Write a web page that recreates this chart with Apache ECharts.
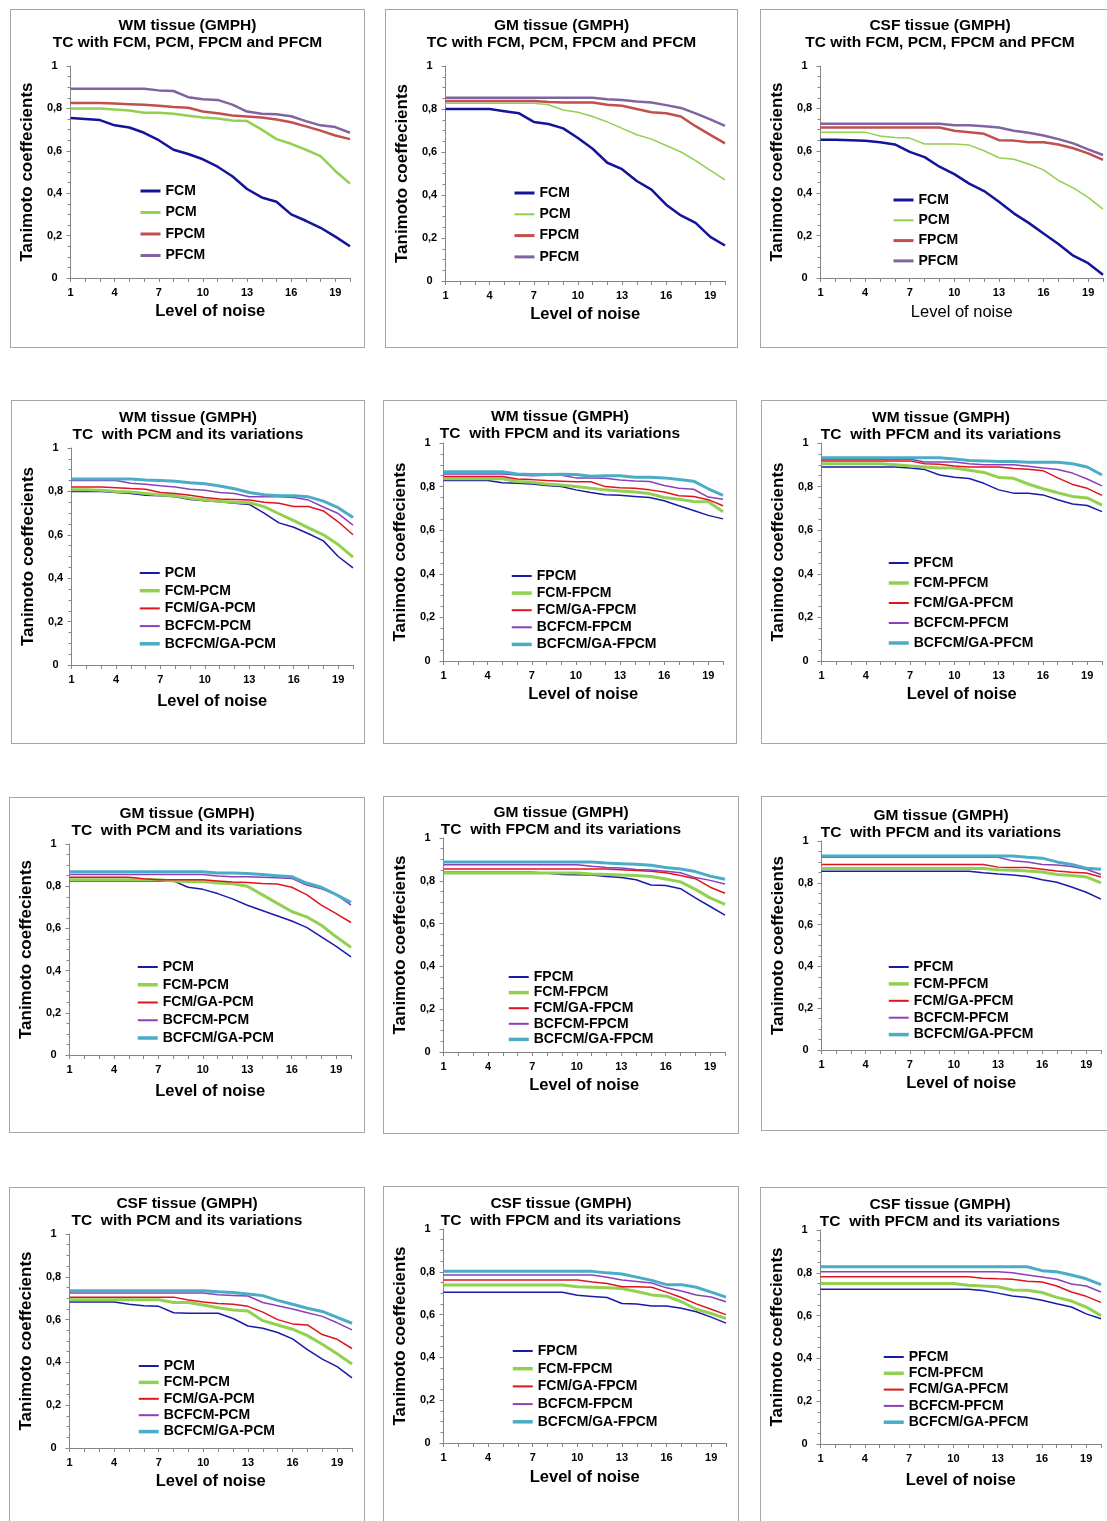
<!DOCTYPE html>
<html>
<head>
<meta charset="utf-8">
<script src="https://cdn.jsdelivr.net/npm/echarts@6/dist/echarts.min.js"></script>
<style>
  html, body { margin: 0; padding: 0; background: #fff; }
  body { width: 1107px; height: 1521px; position: relative; overflow: hidden; }
  .panel { position: absolute; box-sizing: border-box; border: 1px solid #a6a6a6; background: #fff; }
</style>
</head>
<body>
<script>
// noise levels on the x axis
const noiseLevels = ['1', '2', '3', '4', '5', '6', '7', '8', '9', '10',
  '11', '12', '13', '14', '15', '16', '17', '18', '19', '20'];

// --- row 1: TC with FCM, PCM, FPCM and PFCM ---
const wmFCM = [0.755, 0.75, 0.745, 0.72, 0.71, 0.685, 0.65, 0.605, 0.585, 0.56, 0.525, 0.48, 0.42, 0.38, 0.36, 0.30, 0.27, 0.237, 0.195, 0.15];
const wmPCM = [0.80, 0.80, 0.80, 0.795, 0.79, 0.78, 0.78, 0.775, 0.765, 0.757, 0.752, 0.743, 0.74, 0.70, 0.655, 0.633, 0.605, 0.575, 0.505, 0.445];
const wmFPCM = [0.825, 0.825, 0.825, 0.823, 0.82, 0.817, 0.813, 0.807, 0.803, 0.785, 0.777, 0.767, 0.762, 0.757, 0.748, 0.735, 0.715, 0.695, 0.672, 0.655];
const wmPFCM = [0.893, 0.893, 0.893, 0.893, 0.893, 0.893, 0.885, 0.882, 0.853, 0.843, 0.84, 0.818, 0.785, 0.775, 0.772, 0.763, 0.74, 0.72, 0.712, 0.685];

const gmFCM = [0.80, 0.80, 0.80, 0.80, 0.79, 0.78, 0.74, 0.73, 0.71, 0.665, 0.615, 0.55, 0.52, 0.465, 0.425, 0.355, 0.305, 0.27, 0.205, 0.165];
const gmPCM = [0.827, 0.827, 0.827, 0.827, 0.827, 0.827, 0.827, 0.82, 0.795, 0.785, 0.765, 0.74, 0.71, 0.68, 0.66, 0.63, 0.60, 0.56, 0.515, 0.47];
const gmFPCM = [0.837, 0.837, 0.837, 0.837, 0.837, 0.837, 0.837, 0.833, 0.83, 0.83, 0.83, 0.82, 0.815, 0.80, 0.785, 0.78, 0.765, 0.72, 0.68, 0.64];
const gmPFCM = [0.852, 0.852, 0.852, 0.852, 0.852, 0.852, 0.852, 0.852, 0.852, 0.852, 0.852, 0.845, 0.842, 0.835, 0.83, 0.818, 0.805, 0.78, 0.752, 0.722];

const csfFCM = [0.652, 0.652, 0.65, 0.647, 0.64, 0.63, 0.595, 0.57, 0.525, 0.49, 0.445, 0.41, 0.36, 0.305, 0.26, 0.21, 0.16, 0.105, 0.07, 0.015];
const csfPCM = [0.688, 0.688, 0.688, 0.688, 0.67, 0.663, 0.66, 0.632, 0.632, 0.632, 0.627, 0.60, 0.567, 0.56, 0.538, 0.51, 0.46, 0.425, 0.38, 0.325];
const csfFPCM = [0.71, 0.71, 0.71, 0.71, 0.71, 0.71, 0.71, 0.71, 0.71, 0.695, 0.688, 0.68, 0.65, 0.648, 0.64, 0.64, 0.63, 0.612, 0.588, 0.557];
const csfPFCM = [0.728, 0.728, 0.728, 0.728, 0.728, 0.728, 0.728, 0.728, 0.728, 0.72, 0.72, 0.716, 0.71, 0.695, 0.685, 0.672, 0.655, 0.635, 0.607, 0.58];

// --- WM variations ---
const wmPcmBase = [0.80, 0.80, 0.80, 0.795, 0.79, 0.782, 0.78, 0.775, 0.763, 0.757, 0.752, 0.745, 0.74, 0.70, 0.655, 0.635, 0.605, 0.572, 0.50, 0.448];
const wmFcmPcm = [0.808, 0.808, 0.805, 0.80, 0.797, 0.79, 0.783, 0.78, 0.768, 0.76, 0.755, 0.75, 0.748, 0.73, 0.697, 0.665, 0.632, 0.60, 0.555, 0.497];
const wmFcmGaPcm = [0.82, 0.82, 0.82, 0.817, 0.813, 0.81, 0.795, 0.79, 0.782, 0.772, 0.765, 0.763, 0.76, 0.75, 0.745, 0.73, 0.73, 0.71, 0.66, 0.60];
const wmBcfcmPcm = [0.85, 0.85, 0.85, 0.85, 0.838, 0.833, 0.826, 0.82, 0.81, 0.805, 0.795, 0.79, 0.775, 0.775, 0.775, 0.772, 0.76, 0.728, 0.698, 0.645];
const wmBcfcmGaPcm = [0.857, 0.857, 0.857, 0.857, 0.857, 0.853, 0.85, 0.847, 0.84, 0.835, 0.825, 0.812, 0.795, 0.785, 0.78, 0.78, 0.775, 0.755, 0.725, 0.68];

const wmFpcmBase = [0.828, 0.828, 0.828, 0.828, 0.818, 0.815, 0.812, 0.805, 0.80, 0.785, 0.773, 0.763, 0.76, 0.755, 0.75, 0.735, 0.712, 0.69, 0.668, 0.652];
const wmFcmFpcm = [0.836, 0.836, 0.836, 0.836, 0.836, 0.823, 0.82, 0.812, 0.807, 0.80, 0.792, 0.785, 0.78, 0.775, 0.768, 0.75, 0.742, 0.732, 0.73, 0.685];
const wmFcmGaFpcm = [0.846, 0.846, 0.846, 0.846, 0.846, 0.835, 0.832, 0.828, 0.825, 0.822, 0.822, 0.80, 0.795, 0.792, 0.785, 0.775, 0.758, 0.755, 0.74, 0.712];
const wmBcfcmFpcm = [0.858, 0.858, 0.858, 0.858, 0.858, 0.853, 0.85, 0.852, 0.852, 0.84, 0.84, 0.838, 0.83, 0.826, 0.823, 0.805, 0.792, 0.788, 0.752, 0.742];
const wmBcfcmGaFpcm = [0.868, 0.868, 0.868, 0.868, 0.868, 0.858, 0.855, 0.855, 0.857, 0.855, 0.848, 0.85, 0.85, 0.843, 0.843, 0.84, 0.833, 0.825, 0.79, 0.76];

const wmPfcmBase = [0.89, 0.89, 0.89, 0.89, 0.89, 0.89, 0.885, 0.878, 0.853, 0.843, 0.837, 0.815, 0.785, 0.77, 0.77, 0.762, 0.74, 0.72, 0.713, 0.685];
const wmFcmPfcm = [0.905, 0.905, 0.905, 0.905, 0.905, 0.90, 0.895, 0.89, 0.885, 0.885, 0.875, 0.865, 0.842, 0.838, 0.812, 0.79, 0.772, 0.755, 0.748, 0.715];
const wmFcmGaPfcm = [0.918, 0.918, 0.918, 0.918, 0.918, 0.918, 0.918, 0.905, 0.903, 0.895, 0.89, 0.89, 0.89, 0.883, 0.88, 0.873, 0.84, 0.81, 0.792, 0.76];
const wmBcfcmPfcm = [0.925, 0.925, 0.925, 0.925, 0.925, 0.925, 0.925, 0.913, 0.913, 0.913, 0.905, 0.90, 0.90, 0.90, 0.893, 0.885, 0.878, 0.862, 0.835, 0.803];
const wmBcfcmGaPfcm = [0.932, 0.932, 0.932, 0.932, 0.932, 0.932, 0.932, 0.932, 0.932, 0.927, 0.92, 0.918, 0.915, 0.915, 0.912, 0.912, 0.912, 0.905, 0.89, 0.853];

// --- GM variations ---
const gmPcmBase = [0.825, 0.825, 0.825, 0.825, 0.825, 0.825, 0.825, 0.825, 0.795, 0.785, 0.765, 0.74, 0.71, 0.685, 0.66, 0.635, 0.605, 0.56, 0.515, 0.465];
const gmFcmPcm = [0.83, 0.83, 0.83, 0.83, 0.83, 0.83, 0.83, 0.825, 0.822, 0.822, 0.815, 0.812, 0.80, 0.76, 0.72, 0.68, 0.655, 0.615, 0.56, 0.51];
const gmFcmGaPcm = [0.842, 0.842, 0.842, 0.842, 0.842, 0.835, 0.83, 0.83, 0.83, 0.83, 0.825, 0.82, 0.817, 0.813, 0.81, 0.795, 0.76, 0.71, 0.67, 0.628];
const gmBcfcmPcm = [0.855, 0.855, 0.855, 0.855, 0.855, 0.855, 0.855, 0.855, 0.855, 0.855, 0.848, 0.845, 0.845, 0.843, 0.84, 0.837, 0.805, 0.788, 0.76, 0.71];
const gmBcfcmGaPcm = [0.868, 0.868, 0.868, 0.868, 0.868, 0.868, 0.868, 0.868, 0.868, 0.868, 0.862, 0.862, 0.86, 0.855, 0.85, 0.845, 0.815, 0.795, 0.76, 0.723];

const gmFpcmBase = [0.84, 0.84, 0.84, 0.84, 0.84, 0.84, 0.84, 0.835, 0.83, 0.828, 0.827, 0.82, 0.815, 0.805, 0.78, 0.778, 0.763, 0.72, 0.68, 0.64];
const gmFcmFpcm = [0.837, 0.837, 0.837, 0.837, 0.837, 0.837, 0.837, 0.837, 0.837, 0.837, 0.832, 0.83, 0.827, 0.825, 0.82, 0.808, 0.795, 0.76, 0.72, 0.69];
const gmFcmGaFpcm = [0.855, 0.855, 0.855, 0.855, 0.855, 0.855, 0.855, 0.855, 0.855, 0.855, 0.855, 0.855, 0.852, 0.848, 0.845, 0.838, 0.825, 0.81, 0.77, 0.742];
const gmBcfcmFpcm = [0.875, 0.875, 0.875, 0.875, 0.875, 0.875, 0.875, 0.875, 0.875, 0.875, 0.868, 0.862, 0.86, 0.853, 0.85, 0.845, 0.838, 0.815, 0.802, 0.785];
const gmBcfcmGaFpcm = [0.888, 0.888, 0.888, 0.888, 0.888, 0.888, 0.888, 0.888, 0.888, 0.888, 0.888, 0.883, 0.88, 0.877, 0.873, 0.862, 0.855, 0.843, 0.822, 0.807];

const gmPfcmBase = [0.855, 0.855, 0.855, 0.855, 0.855, 0.855, 0.855, 0.855, 0.855, 0.855, 0.855, 0.848, 0.842, 0.837, 0.83, 0.815, 0.803, 0.78, 0.755, 0.722];
const gmFcmPfcm = [0.868, 0.868, 0.868, 0.868, 0.868, 0.868, 0.868, 0.868, 0.868, 0.868, 0.868, 0.868, 0.862, 0.86, 0.856, 0.852, 0.84, 0.835, 0.828, 0.80];
const gmFcmGaPfcm = [0.888, 0.888, 0.888, 0.888, 0.888, 0.888, 0.888, 0.888, 0.888, 0.888, 0.888, 0.888, 0.875, 0.873, 0.873, 0.865, 0.857, 0.85, 0.847, 0.828];
const gmBcfcmPfcm = [0.922, 0.922, 0.922, 0.922, 0.922, 0.922, 0.922, 0.922, 0.922, 0.922, 0.922, 0.922, 0.922, 0.905, 0.90, 0.888, 0.885, 0.878, 0.865, 0.84];
const gmBcfcmGaPfcm = [0.928, 0.928, 0.928, 0.928, 0.928, 0.928, 0.928, 0.928, 0.928, 0.928, 0.928, 0.928, 0.928, 0.928, 0.922, 0.918, 0.90, 0.888, 0.87, 0.865];

// --- CSF variations ---
const csfPcmBase = [0.682, 0.682, 0.682, 0.682, 0.672, 0.665, 0.662, 0.632, 0.63, 0.63, 0.63, 0.605, 0.57, 0.56, 0.54, 0.51, 0.46, 0.415, 0.38, 0.328];
const csfFcmPcm = [0.693, 0.693, 0.693, 0.693, 0.693, 0.693, 0.693, 0.68, 0.68, 0.668, 0.655, 0.645, 0.64, 0.595, 0.575, 0.555, 0.525, 0.485, 0.44, 0.393];
const csfFcmGaPcm = [0.705, 0.705, 0.705, 0.705, 0.705, 0.705, 0.705, 0.705, 0.692, 0.682, 0.675, 0.672, 0.662, 0.635, 0.60, 0.58, 0.575, 0.53, 0.508, 0.465];
const csfBcfcmPcm = [0.724, 0.724, 0.724, 0.724, 0.724, 0.724, 0.724, 0.724, 0.724, 0.724, 0.716, 0.713, 0.71, 0.68, 0.665, 0.65, 0.632, 0.615, 0.585, 0.552];
const csfBcfcmGaPcm = [0.735, 0.735, 0.735, 0.735, 0.735, 0.735, 0.735, 0.735, 0.735, 0.735, 0.73, 0.727, 0.72, 0.712, 0.69, 0.672, 0.653, 0.638, 0.61, 0.583];

const csfFpcmBase = [0.704, 0.704, 0.704, 0.704, 0.704, 0.704, 0.704, 0.704, 0.704, 0.69, 0.685, 0.68, 0.652, 0.65, 0.64, 0.64, 0.63, 0.613, 0.588, 0.56];
const csfFcmFpcm = [0.738, 0.738, 0.738, 0.738, 0.738, 0.738, 0.738, 0.738, 0.738, 0.73, 0.728, 0.725, 0.722, 0.708, 0.692, 0.686, 0.66, 0.625, 0.605, 0.582];
const csfFcmGaFpcm = [0.762, 0.762, 0.762, 0.762, 0.762, 0.762, 0.762, 0.762, 0.762, 0.762, 0.752, 0.745, 0.73, 0.73, 0.728, 0.705, 0.68, 0.65, 0.625, 0.60];
const csfBcfcmFpcm = [0.785, 0.785, 0.785, 0.785, 0.785, 0.785, 0.785, 0.785, 0.785, 0.785, 0.785, 0.775, 0.762, 0.755, 0.748, 0.725, 0.71, 0.692, 0.682, 0.66];
const csfBcfcmGaFpcm = [0.802, 0.802, 0.802, 0.802, 0.802, 0.802, 0.802, 0.802, 0.802, 0.802, 0.802, 0.795, 0.79, 0.775, 0.76, 0.74, 0.74, 0.728, 0.705, 0.682];

const csfPfcmBase = [0.723, 0.723, 0.723, 0.723, 0.723, 0.723, 0.723, 0.723, 0.723, 0.723, 0.723, 0.717, 0.705, 0.692, 0.685, 0.672, 0.655, 0.64, 0.608, 0.585];
const csfFcmPfcm = [0.75, 0.75, 0.75, 0.75, 0.75, 0.75, 0.75, 0.75, 0.75, 0.75, 0.742, 0.738, 0.735, 0.72, 0.718, 0.708, 0.685, 0.668, 0.64, 0.60];
const csfFcmGaPfcm = [0.781, 0.781, 0.781, 0.781, 0.781, 0.781, 0.781, 0.781, 0.781, 0.781, 0.781, 0.775, 0.772, 0.77, 0.76, 0.757, 0.738, 0.71, 0.69, 0.662];
const csfBcfcmPfcm = [0.805, 0.805, 0.805, 0.805, 0.805, 0.805, 0.805, 0.805, 0.805, 0.805, 0.805, 0.805, 0.805, 0.80, 0.79, 0.78, 0.77, 0.748, 0.738, 0.71];
const csfBcfcmGaPfcm = [0.828, 0.828, 0.828, 0.828, 0.828, 0.828, 0.828, 0.828, 0.828, 0.828, 0.828, 0.828, 0.828, 0.828, 0.828, 0.81, 0.805, 0.79, 0.772, 0.745];

// series names
const baseNames = ['FCM', 'PCM', 'FPCM', 'PFCM'];
const pcmNames = ['PCM', 'FCM-PCM', 'FCM/GA-PCM', 'BCFCM-PCM', 'BCFCM/GA-PCM'];
const fpcmNames = ['FPCM', 'FCM-FPCM', 'FCM/GA-FPCM', 'BCFCM-FPCM', 'BCFCM/GA-FPCM'];
const pfcmNames = ['PFCM', 'FCM-PFCM', 'FCM/GA-PFCM', 'BCFCM-PFCM', 'BCFCM/GA-PFCM'];

const FONT = "'Liberation Sans', Arial, sans-serif";
const AXIS_COLOR = '#868686';

// row 1 styles / variations styles
const BASE_COLORS = ['#14149a', '#92d050', '#c0504d', '#8064a2'];
const VAR_COLORS = ['#1a1aaa', '#92d050', '#e0141e', '#8a40b8', '#4bacc6'];
const VAR_WIDTHS = [1.5, 3, 1.5, 1.5, 3];

// page layout, measured in page pixels:
// box = [left, top, width, height], plot = [x0, y0(top), x1, y1(bottom)]
// title = y of first title line, legend = [line start x, first item y, step]
const panels = [
  { box: [10, 9, 355, 339], plot: [59, 65, 349, 277], title: 25, legend: [138, 190, 21.5], xGap: 23,
    head: 'WM tissue (GMPH)', sub: 'TC with FCM, PCM, FPCM and PFCM',
    names: baseNames, values: [wmFCM, wmPCM, wmFPCM, wmPFCM], colors: BASE_COLORS, widths: [2.5, 2.5, 2.5, 2.5] },
  { box: [385, 9, 353, 339], plot: [433, 65, 724, 280], title: 25, legend: [512, 192, 21.3], xGap: 23,
    head: 'GM tissue (GMPH)', sub: 'TC with FCM, PCM, FPCM and PFCM',
    names: baseNames, values: [gmFCM, gmPCM, gmFPCM, gmPFCM], colors: BASE_COLORS, widths: [2.5, 1.5, 2.5, 2.5] },
  { box: [760, 9, 360, 339], plot: [808, 65, 1102, 277], title: 25, legend: [891, 199, 20.3], xGap: 26, xNameWeight: 'normal',
    head: 'CSF tissue (GMPH)', sub: 'TC with FCM, PCM, FPCM and PFCM',
    names: baseNames, values: [csfFCM, csfPCM, csfFPCM, csfPFCM], colors: BASE_COLORS, widths: [2.5, 1.5, 2.5, 2.5] },

  { box: [11, 400, 354, 344], plot: [60, 447, 352, 664], title: 417, legend: [137, 572, 17.7], xGap: 28,
    head: 'WM tissue (GMPH)', sub: 'TC  with PCM and its variations',
    names: pcmNames, values: [wmPcmBase, wmFcmPcm, wmFcmGaPcm, wmBcfcmPcm, wmBcfcmGaPcm] },
  { box: [383, 400, 354, 344], plot: [431, 442, 722, 660], title: 416, legend: [509, 575, 17.1], xGap: 25,
    head: 'WM tissue (GMPH)', sub: 'TC  with FPCM and its variations',
    names: fpcmNames, values: [wmFpcmBase, wmFcmFpcm, wmFcmGaFpcm, wmBcfcmFpcm, wmBcfcmGaFpcm] },
  { box: [761, 400, 360, 344], plot: [810, 442, 1101, 660], title: 417, legend: [886, 562, 20], xGap: 22,
    head: 'WM tissue (GMPH)', sub: 'TC  with PFCM and its variations',
    names: pfcmNames, values: [wmPfcmBase, wmFcmPfcm, wmFcmGaPfcm, wmBcfcmPfcm, wmBcfcmGaPfcm] },

  { box: [9, 797, 356, 336], plot: [57, 843, 350, 1054], title: 813, legend: [135, 966, 17.75], xGap: 28,
    head: 'GM tissue (GMPH)', sub: 'TC  with PCM and its variations',
    names: pcmNames, values: [gmPcmBase, gmFcmPcm, gmFcmGaPcm, gmBcfcmPcm, gmBcfcmGaPcm] },
  { box: [383, 796, 356, 338], plot: [431, 837, 724, 1051], title: 812, legend: [506, 976, 15.6], xGap: 25,
    head: 'GM tissue (GMPH)', sub: 'TC  with FPCM and its variations',
    names: fpcmNames, values: [gmFpcmBase, gmFcmFpcm, gmFcmGaFpcm, gmBcfcmFpcm, gmBcfcmGaFpcm] },
  { box: [761, 796, 360, 335], plot: [809, 840, 1100, 1049], title: 815, legend: [886, 966, 16.9], xGap: 25,
    head: 'GM tissue (GMPH)', sub: 'TC  with PFCM and its variations',
    names: pfcmNames, values: [gmPfcmBase, gmFcmPfcm, gmFcmGaPfcm, gmBcfcmPfcm, gmBcfcmGaPfcm] },

  { box: [9, 1187, 356, 345], plot: [58, 1233, 351, 1447], title: 1203, legend: [136, 1365, 16.4], xGap: 24,
    head: 'CSF tissue (GMPH)', sub: 'TC  with PCM and its variations',
    names: pcmNames, values: [csfPcmBase, csfFcmPcm, csfFcmGaPcm, csfBcfcmPcm, csfBcfcmGaPcm] },
  { box: [383, 1186, 356, 345], plot: [434, 1228, 725, 1442], title: 1203, legend: [510, 1350, 17.7], xGap: 26,
    head: 'CSF tissue (GMPH)', sub: 'TC  with FPCM and its variations',
    names: fpcmNames, values: [csfFpcmBase, csfFcmFpcm, csfFcmGaFpcm, csfBcfcmFpcm, csfBcfcmGaFpcm] },
  { box: [760, 1187, 360, 345], plot: [807, 1229, 1100, 1443], title: 1204, legend: [881, 1356, 16.3], xGap: 28,
    head: 'CSF tissue (GMPH)', sub: 'TC  with PFCM and its variations',
    names: pfcmNames, values: [csfPfcmBase, csfFcmPfcm, csfFcmGaPfcm, csfBcfcmPfcm, csfBcfcmGaPfcm] },
];

const TITLE_LINE = 17;
const LEGEND_ITEM_H = 14;

// 0,2 / 0,4 ... with decimal comma like the original
const formatTick = (v) => {
  if (v === 0 || v === 1) return String(v);
  return v.toFixed(1).replace('.', ',');
};

const getChartOption = (p) => {
  const [bx, by] = p.box;
  const [x0, y0, x1, y1] = p.plot;
  const colors = p.colors || VAR_COLORS;
  const widths = p.widths || VAR_WIDTHS;

  return {
    animation: false,
    backgroundColor: 'transparent',
    title: {
      text: p.head + '\n' + p.sub,
      left: 'center',
      top: p.title - by - TITLE_LINE / 2,
      padding: 0,
      textStyle: { fontFamily: FONT, fontWeight: 'bold', fontSize: 15.5, lineHeight: TITLE_LINE, color: '#000' },
    },
    legend: {
      orient: 'vertical',
      left: p.legend[0] - bx,
      top: p.legend[1] - by - LEGEND_ITEM_H / 2,
      padding: 0,
      itemWidth: 20,
      itemHeight: LEGEND_ITEM_H,
      itemGap: p.legend[2] - LEGEND_ITEM_H,
      // only the line sample, no marker in the middle
      itemStyle: { opacity: 0 },
      textStyle: { fontFamily: FONT, fontWeight: 'bold', fontSize: 14, color: '#000' },
      data: p.names.map((name, i) => ({ name: name, lineStyle: { width: widths[i] + 0.5 } })),
    },
    grid: { left: x0 - bx, top: y0 - by, width: x1 - x0, height: y1 - y0 },
    xAxis: {
      type: 'category',
      data: noiseLevels,
      boundaryGap: false,
      name: 'Level of noise',
      nameLocation: 'middle',
      nameGap: p.xGap,
      nameTextStyle: { fontFamily: FONT, fontWeight: p.xNameWeight || 'bold', fontSize: 16.5, color: '#000' },
      axisLine: { lineStyle: { color: AXIS_COLOR, width: 1 } },
      axisTick: { show: true, interval: 0, length: 4, lineStyle: { color: AXIS_COLOR } },
      axisLabel: { interval: 2, margin: 9, fontFamily: FONT, fontWeight: 'bold', fontSize: 11, color: '#000' },
      splitLine: { show: false },
    },
    yAxis: {
      type: 'value',
      min: 0,
      max: 1,
      interval: 0.2,
      name: 'Tanimoto coeffecients',
      nameLocation: 'middle',
      nameGap: 28,
      nameTextStyle: { fontFamily: FONT, fontWeight: 'bold', fontSize: 17, color: '#000' },
      axisLine: { show: true, lineStyle: { color: AXIS_COLOR, width: 1 } },
      axisTick: { show: true, length: 4, lineStyle: { color: AXIS_COLOR } },
      minorTick: { show: true, splitNumber: 4, length: 3, lineStyle: { color: AXIS_COLOR } },
      axisLabel: { formatter: formatTick, align: 'center', margin: 16, fontFamily: FONT, fontWeight: 'bold', fontSize: 11, color: '#000' },
      splitLine: { show: false },
    },
    series: p.names.map((name, i) => ({
      type: 'line',
      name: name,
      data: p.values[i],
      symbol: 'none',
      smooth: false,
      color: colors[i],
      lineStyle: { color: colors[i], width: widths[i] },
      z: 2 + i,
    })),
  };
};

panels.forEach((p) => {
  const el = document.createElement('div');
  el.className = 'panel';
  el.style.left = p.box[0] + 'px';
  el.style.top = p.box[1] + 'px';
  el.style.width = p.box[2] + 'px';
  el.style.height = p.box[3] + 'px';
  document.body.appendChild(el);
  const chart = echarts.init(el, null, { renderer: 'canvas' });
  chart.setOption(getChartOption(p));
});
</script>
</body>
</html>
